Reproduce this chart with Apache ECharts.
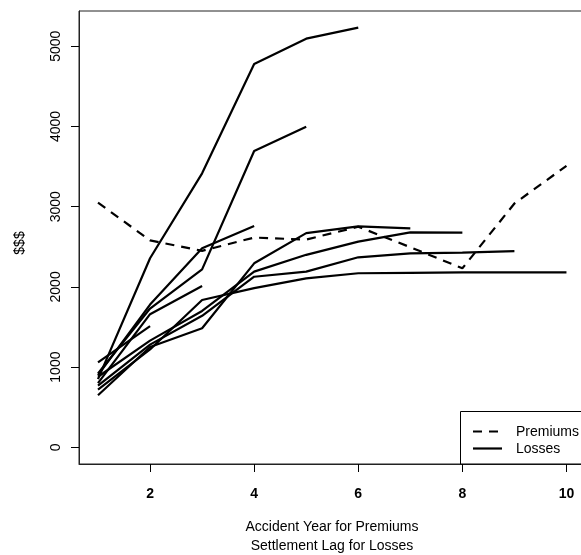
<!DOCTYPE html>
<html>
<head>
<meta charset="utf-8">
<script src="https://cdn.jsdelivr.net/npm/echarts@6/dist/echarts.min.js"></script>
<style>
html,body{margin:0;padding:0;background:#fff;}
#chart{width:581px;height:555px;}
</style>
</head>
<body>
<div id="chart"></div>
<script>
// x positions: accident year (premiums) / settlement lag (losses)
const lags = [1, 2, 3, 4, 5, 6, 7, 8, 9, 10];
const xTicks = [2, 4, 6, 8, 10];
const yTicks = [0, 1000, 2000, 3000, 4000, 5000];
const legendNames = ['Premiums', 'Losses'];

const premiums = [3050, 2580, 2450, 2615, 2590, 2750, 2495, 2232, 3040, 3510];

const lossesAY1 = [720, 1220, 1837, 1985, 2107, 2170, 2175, 2180, 2180, 2182];
const lossesAY2 = [770, 1280, 1640, 2127, 2190, 2369, 2419, 2427, 2445];
const lossesAY3 = [880, 1330, 1700, 2190, 2400, 2565, 2680, 2676];
const lossesAY4 = [650, 1250, 1484, 2294, 2670, 2755, 2730];
const lossesAY5 = [850, 2357, 3416, 4779, 5095, 5232];
const lossesAY6 = [920, 1730, 2219, 3694, 3998];
const lossesAY7 = [900, 1780, 2481, 2760];
const lossesAY8 = [800, 1660, 2011];
const lossesAY9 = [1060, 1512];
const lossesAY10 = [870];

const lossRows = [lossesAY1, lossesAY2, lossesAY3, lossesAY4, lossesAY5,
                  lossesAY6, lossesAY7, lossesAY8, lossesAY9, lossesAY10];

const toPairs = vals => vals.map((v, i) => [lags[i], v]);
const DASH = [9, 7];
const LW = 2.2;
const FONT = 'Liberation Sans, Arial, sans-serif';

const series = [{
  name: 'Premiums', type: 'line', data: toPairs(premiums),
  symbol: 'none', silent: true, animation: false,
  lineStyle: { color: '#000', width: LW, type: DASH }
}];
lossRows.forEach(row => {
  series.push({
    name: 'Losses', type: 'line', data: toPairs(row),
    symbol: 'none', silent: true, animation: false,
    lineStyle: { color: '#000', width: LW, type: 'solid' }
  });
});

const chart = echarts.init(document.getElementById('chart'), null, { renderer: 'canvas' });
chart.setOption({
  animation: false,
  backgroundColor: '#fff',
  grid: { left: 79, top: 11, width: 506, height: 453, show: true,
          outerBoundsMode: 'none', containLabel: false,
          borderColor: '#222', borderWidth: 1, backgroundColor: 'transparent' },
  xAxis: {
    type: 'value', min: 0.635, max: 10.356,
    axisLine: { show: true, onZero: false, lineStyle: { color: '#222', width: 1 } },
    splitLine: { show: false },
    axisTick: { show: true, inside: false, interval: 0, length: 8,
                lineStyle: { color: '#000', width: 1 }, customValues: xTicks },
    axisLabel: { show: true, customValues: xTicks, margin: 23, color: '#000',
                 fontSize: 14, fontWeight: 'bold', fontFamily: FONT,
                 formatter: v => String(v) }
  },
  yAxis: {
    type: 'value', min: -208, max: 5440,
    axisLine: { show: true, onZero: false, lineStyle: { color: '#222', width: 1 } },
    splitLine: { show: false },
    axisTick: { show: true, inside: false, interval: 0, length: 8,
                lineStyle: { color: '#000', width: 1 }, customValues: yTicks },
    axisLabel: { show: true, customValues: yTicks, rotate: 90, margin: 16, color: '#000',
                 fontSize: 14, fontFamily: FONT, formatter: v => String(v) }
  },
  graphic: [
    { type: 'rect', silent: true, z: 10,
      shape: { x: 460.5, y: 411.5, width: 200, height: 52.5 },
      style: { fill: '#fff', stroke: '#000', lineWidth: 1 } },
    { type: 'line', silent: true, z: 11,
      shape: { x1: 473, y1: 431.5, x2: 502, y2: 431.5 },
      style: { stroke: '#000', lineWidth: LW, lineDash: DASH } },
    { type: 'line', silent: true, z: 11,
      shape: { x1: 473, y1: 448.5, x2: 502, y2: 448.5 },
      style: { stroke: '#000', lineWidth: LW } },
    { type: 'text', silent: true, z: 11, x: 516, y: 432,
      style: { text: legendNames[0], fill: '#000', fontSize: 14, fontFamily: FONT,
               align: 'left', verticalAlign: 'middle' } },
    { type: 'text', silent: true, z: 11, x: 516, y: 449,
      style: { text: legendNames[1], fill: '#000', fontSize: 14, fontFamily: FONT,
               align: 'left', verticalAlign: 'middle' } },
    { type: 'text', silent: true, x: 20, y: 243, rotation: Math.PI / 2,
      style: { text: '$$$', fill: '#000', fontSize: 14, fontFamily: FONT,
               align: 'center', verticalAlign: 'middle' } },
    { type: 'text', silent: true, x: 332, y: 527,
      style: { text: 'Accident Year for Premiums', fill: '#000', fontSize: 14,
               fontFamily: FONT, align: 'center', verticalAlign: 'middle' } },
    { type: 'text', silent: true, x: 332, y: 546,
      style: { text: 'Settlement Lag for Losses', fill: '#000', fontSize: 14,
               fontFamily: FONT, align: 'center', verticalAlign: 'middle' } }
  ],
  series: series
});
</script>
</body>
</html>
